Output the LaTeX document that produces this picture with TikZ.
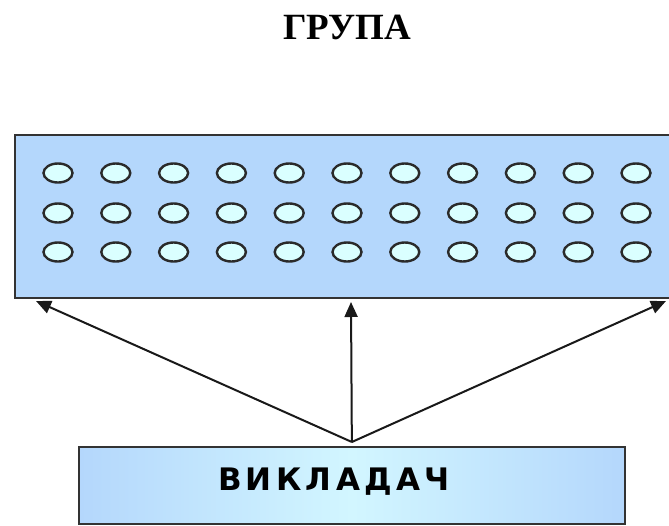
\documentclass[tikz,border=0pt]{standalone}
\usepackage{fontspec}
\usepackage{tikz}
\usetikzlibrary{arrows.meta,positioning,calc}
\usepackage{xcolor}
\newfontfamily\titlefont{Liberation Serif}
\newfontfamily\boxfont[LetterSpace=14]{DejaVu Sans}
\definecolor{groupblue}{HTML}{B4D7FC}
\definecolor{seatcyan}{HTML}{DAFFFF}
\definecolor{seatedge}{HTML}{2A2A2A}
\definecolor{teacherglow}{HTML}{D2F6FF}
\definecolor{edgegray}{HTML}{333333}

\begin{document}
\begin{tikzpicture}[
  x=1pt, y=-1pt,
  groupbox/.style={
    draw=edgegray,
    fill=groupblue,
    line width=1.8pt,
    minimum width=656pt,
    minimum height=163pt,
    inner sep=0pt,
    anchor=north west
  },
  seat/.style={
    draw=seatedge,
    fill=seatcyan,
    line width=2.4pt
  },
  teacherbox/.style={
    draw=edgegray,
    left color=groupblue,
    right color=groupblue,
    middle color=teacherglow,
    line width=1.7pt,
    minimum width=546pt,
    minimum height=77pt,
    inner sep=0pt,
    anchor=north west
  },
  link/.style={-{Triangle[length=15pt,width=13pt]}, line width=2pt, black!90}
]

  \useasboundingbox (0,0) rectangle (669,525);

  % --- TITLE ---
  \node[font=\titlefont\bfseries\fontsize{37}{40}\selectfont] (title) at (347,27) {ГРУПА};

  % --- GROUP OF STUDENTS ---
  \node[groupbox] (group) at (14,134) {};
  \foreach \row/\ypos in {1/173, 2/213, 3/252} {
    \foreach \col in {0,...,10} {
      \draw[seat] (58+57.8*\col, \ypos) ellipse [x radius=14.5pt, y radius=9.5pt];
    }
  }

  % --- TEACHER ---
  \node[teacherbox] (teacher) at (78,446) {};
  \node[font=\boxfont\bfseries\fontsize{31}{36}\selectfont, anchor=center] (teacherlabel)
    at ([xshift=-18pt, yshift=4pt]teacher.center) {ВИКЛАДАЧ};

  % Arrows from teacher up to the group
  \coordinate (hub) at ([yshift=4pt]teacher.north);
  \coordinate (tipleft) at (36,301);
  \coordinate (tipmid) at (351,302);
  \coordinate (tipright) at (666,301);
  \draw[link] (hub) -- (tipleft);
  \draw[link] (hub) -- (tipmid);
  \draw[link] (hub) -- (tipright);

\end{tikzpicture}
\end{document}
